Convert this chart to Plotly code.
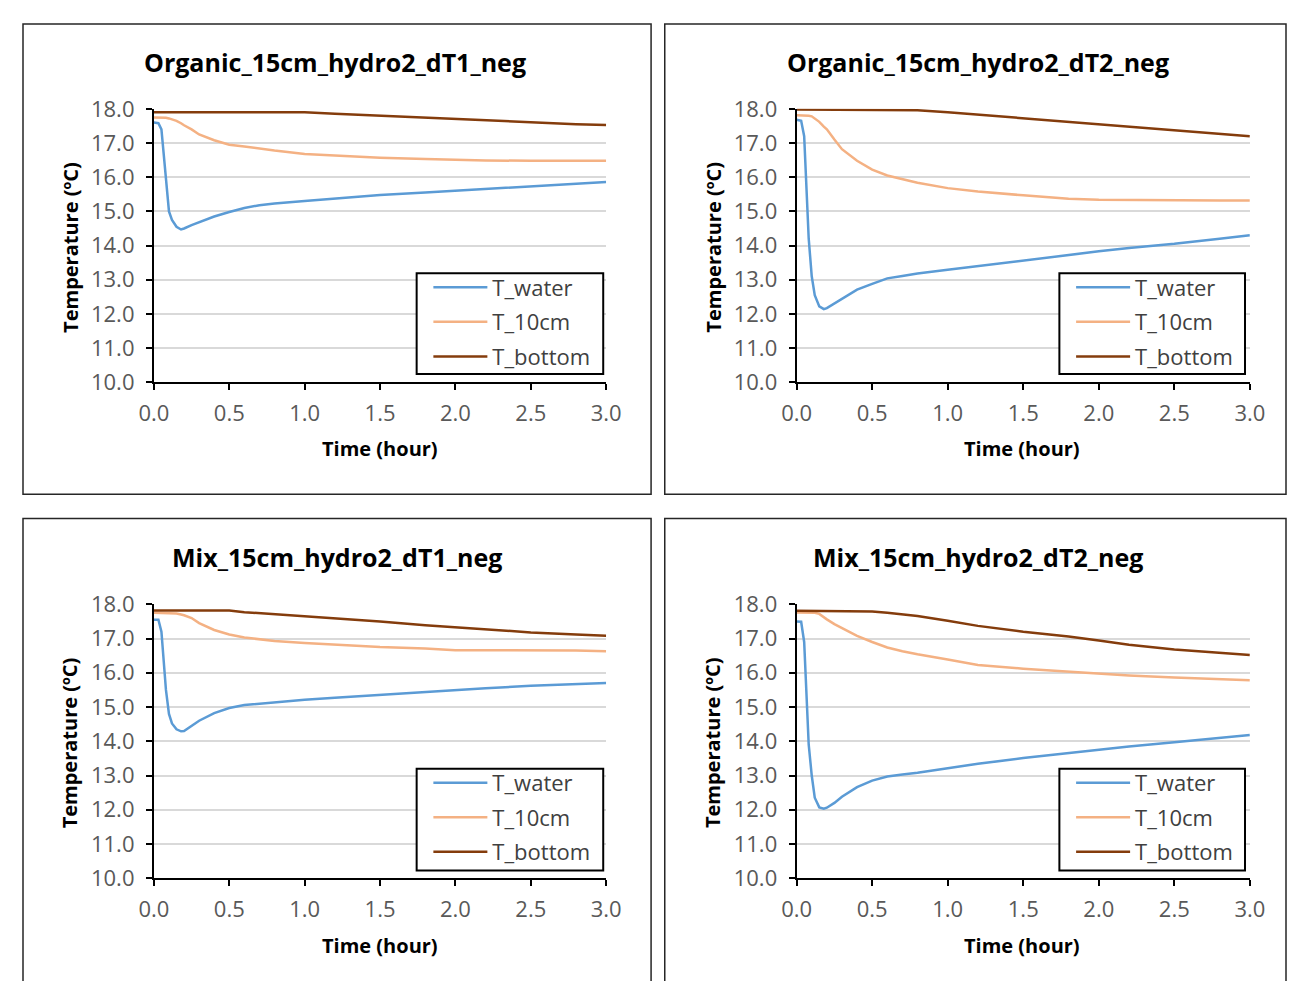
import plotly.graph_objects as go

# page is 1309x1003; the browser body margin is 8px on every side,
# so the figure is sized to fit inside it exactly
OFF = 8
FW, FH = 1309 - 2 * OFF, 1003 - 2 * OFF

# time axis (hours)
time_h = [0, 0.03, 0.05, 0.08, 0.1, 0.12, 0.15, 0.18, 0.2, 0.25, 0.3, 0.4, 0.5,
          0.6, 0.7, 0.8, 1.0, 1.2, 1.5, 1.8, 2.0, 2.2, 2.5, 2.8, 3.0]

# Organic_15cm_hydro2_dT1_neg
org1_water = [17.6, 17.58, 17.4, 16.0, 15.0, 14.75, 14.55, 14.47, 14.5, 14.6, 14.68, 14.85, 14.98,
              15.1, 15.18, 15.23, 15.3, 15.38, 15.48, 15.55, 15.6, 15.65, 15.73, 15.8, 15.86]
org1_10cm = [17.75, 17.75, 17.75, 17.74, 17.72, 17.7, 17.65, 17.58, 17.52, 17.4, 17.25, 17.08, 16.95,
             16.9, 16.83, 16.78, 16.68, 16.63, 16.57, 16.53, 16.5, 16.49, 16.48, 16.48, 16.48]
org1_bottom = [17.9, 17.9, 17.9, 17.9, 17.9, 17.9, 17.9, 17.9, 17.9, 17.9, 17.9, 17.9, 17.9,
               17.9, 17.9, 17.9, 17.9, 17.86, 17.8, 17.74, 17.7, 17.66, 17.6, 17.55, 17.53]

# Organic_15cm_hydro2_dT2_neg
org2_water = [17.68, 17.65, 17.2, 14.2, 13.1, 12.55, 12.22, 12.14, 12.17, 12.3, 12.45, 12.71, 12.88,
              13.04, 13.11, 13.18, 13.29, 13.4, 13.57, 13.72, 13.83, 13.93, 14.05, 14.2, 14.3]
org2_10cm = [17.81, 17.81, 17.81, 17.8, 17.78, 17.72, 17.62, 17.48, 17.4, 17.1, 16.82, 16.48, 16.22,
             16.05, 15.94, 15.84, 15.68, 15.58, 15.47, 15.37, 15.34, 15.33, 15.32, 15.32, 15.32]
org2_bottom = [17.98, 17.98, 17.98, 17.98, 17.98, 17.98, 17.98, 17.98, 17.98, 17.98, 17.98, 17.98, 17.98,
               17.98, 17.98, 17.96, 17.9, 17.83, 17.74, 17.62, 17.55, 17.48, 17.39, 17.27, 17.2]

# Mix_15cm_hydro2_dT1_neg
mix1_water = [17.55, 17.55, 17.2, 15.5, 14.8, 14.52, 14.35, 14.29, 14.3, 14.45, 14.6, 14.82, 14.97,
              15.06, 15.1, 15.14, 15.21, 15.27, 15.36, 15.45, 15.5, 15.55, 15.62, 15.67, 15.7]
mix1_10cm = [17.75, 17.75, 17.75, 17.75, 17.75, 17.75, 17.73, 17.7, 17.68, 17.6, 17.45, 17.25, 17.12,
             17.03, 16.98, 16.93, 16.87, 16.82, 16.75, 16.71, 16.66, 16.66, 16.66, 16.65, 16.63]
mix1_bottom = [17.82, 17.82, 17.82, 17.82, 17.82, 17.82, 17.82, 17.82, 17.82, 17.82, 17.82, 17.82, 17.82,
               17.77, 17.74, 17.71, 17.64, 17.58, 17.5, 17.39, 17.33, 17.26, 17.18, 17.12, 17.08]

# Mix_15cm_hydro2_dT2_neg
mix2_water = [17.5, 17.49, 16.9, 13.9, 13.0, 12.35, 12.07, 12.03, 12.06, 12.2, 12.38, 12.66, 12.85,
              12.97, 13.03, 13.08, 13.21, 13.34, 13.51, 13.66, 13.75, 13.85, 13.97, 14.1, 14.18]
mix2_10cm = [17.76, 17.76, 17.76, 17.76, 17.76, 17.75, 17.72, 17.62, 17.56, 17.42, 17.3, 17.08, 16.9,
             16.74, 16.63, 16.54, 16.39, 16.23, 16.12, 16.04, 15.97, 15.92, 15.86, 15.81, 15.78]
mix2_bottom = [17.81, 17.81, 17.81, 17.81, 17.81, 17.81, 17.81, 17.81, 17.81, 17.81, 17.81, 17.8, 17.79,
               17.75, 17.7, 17.66, 17.52, 17.37, 17.2, 17.06, 16.94, 16.82, 16.68, 16.58, 16.52]

titles = ["Organic_15cm_hydro2_dT1_neg", "Organic_15cm_hydro2_dT2_neg",
          "Mix_15cm_hydro2_dT1_neg", "Mix_15cm_hydro2_dT2_neg"]
series_names = ["T_water", "T_10cm", "T_bottom"]
panel_data = [
    (org1_water, org1_10cm, org1_bottom),
    (org2_water, org2_10cm, org2_bottom),
    (mix1_water, mix1_10cm, mix1_bottom),
    (mix2_water, mix2_10cm, mix2_bottom),
]

colors = ["#5B9BD5", "#F4B183", "#843C0C"]
FONT = "Open Sans"
X_RANGE = [0, 3]
Y_RANGE = [10, 18]

# pixel layout (page coordinates) of each panel
layouts = [
    dict(x0=142, x1=605, yt=95.5, yb=377.5, frame=(8, 8, 651, 493), title=(327, 47),
         ytl=(56, 238), xtl=(373.5, 446), leg=(411, 265, 602, 369)),
    dict(x0=800, x1=1264, yt=95.5, yb=377.5, frame=(665, 8, 1301, 493), title=(986, 47),
         ytl=(714, 238), xtl=(1031, 446), leg=(1069, 265, 1259, 369)),
    dict(x0=142, x1=605, yt=606.5, yb=889, frame=(8, 518, 651, None), title=(329, 558),
         ytl=(56, 749), xtl=(373.5, 958), leg=(411, 776, 602, 881)),
    dict(x0=800, x1=1264, yt=606.5, yb=889, frame=(665, 518, 1301, None), title=(986, 558),
         ytl=(714, 749), xtl=(1031, 958), leg=(1069, 776, 1259, 881)),
]


def px(x):
    return (x - OFF) / FW


def py(y):
    return 1 - (y - OFF) / FH


fig = go.Figure()
shapes = []
annotations = []

for i, (lay, title, data) in enumerate(zip(layouts, titles, panel_data), start=1):
    sfx = "" if i == 1 else str(i)
    leg_name = "legend" if i == 1 else f"legend{i}"
    for name, vals, col in zip(series_names, data, colors):
        fig.add_trace(go.Scatter(
            x=time_h, y=vals, name=name, mode="lines",
            line=dict(color=col, width=2.5),
            xaxis=f"x{sfx}", yaxis=f"y{sfx}", legend=leg_name,
            legendgroup=f"{i}_{name}",
        ))

    fig.update_layout(**{
        f"xaxis{sfx}": dict(
            domain=[px(lay["x0"]), px(lay["x1"])], anchor=f"y{sfx}", range=X_RANGE,
            dtick=0.5, tick0=0, tickformat=".1f", showgrid=False, zeroline=False,
            showline=True, linecolor="black", linewidth=2,
            ticks="outside", ticklen=6, tickwidth=2, tickcolor="black",
            tickfont=dict(family=FONT, size=22, color="#595959"), ticklabelstandoff=4,
        ),
        f"yaxis{sfx}": dict(
            domain=[py(lay["yb"]), py(lay["yt"])], anchor=f"x{sfx}", range=Y_RANGE,
            dtick=1, tick0=10, tickformat=".1f", showgrid=True, gridcolor="#D9D9D9",
            gridwidth=2, zeroline=False, showline=True, linecolor="black", linewidth=2,
            ticks="outside", ticklen=6, tickwidth=2, tickcolor="black",
            tickfont=dict(family=FONT, size=22, color="#595959"), ticklabelstandoff=7,
        ),
    })

    # legend box drawn in its subplot's data space, between gridlines and traces
    lx0, ly0, lx1, ly1 = lay["leg"]
    wpx = lay["x1"] - lay["x0"]
    hpx = lay["yb"] - lay["yt"]
    xs = X_RANGE[1] - X_RANGE[0]
    ys = Y_RANGE[1] - Y_RANGE[0]
    shapes.append(dict(
        type="rect", xref=f"x{sfx}", yref=f"y{sfx}", layer="between",
        x0=X_RANGE[0] + (lx0 - lay["x0"]) / wpx * xs,
        x1=X_RANGE[0] + (lx1 - lay["x0"]) / wpx * xs,
        y0=Y_RANGE[0] + (lay["yb"] - ly1) / hpx * ys,
        y1=Y_RANGE[0] + (lay["yb"] - ly0) / hpx * ys,
        fillcolor="white", line=dict(color="black", width=2),
    ))
    fig.update_layout(**{leg_name: dict(
        x=px(lx0 + 12), y=py(ly0 - 7), xanchor="left", yanchor="top",
        bgcolor="rgba(0,0,0,0)", borderwidth=0, tracegroupgap=3, itemwidth=54,
        font=dict(family=FONT, size=22, color="#404040"),
    )})

    # outer frame (bottom row is cut off by the page edge)
    fx0, fy0, fx1, fy1 = lay["frame"]
    if fy1 is None:
        path = (f"M{px(fx0)},0 L{px(fx0)},{py(fy0)} L{px(fx1)},{py(fy0)} L{px(fx1)},0")
    else:
        path = (f"M{px(fx0)},{py(fy1)} L{px(fx0)},{py(fy0)} L{px(fx1)},{py(fy0)} "
                f"L{px(fx1)},{py(fy1)} Z")
    shapes.append(dict(
        type="path", xref="paper", yref="paper", path=path,
        line=dict(color="#262626", width=1.5),
    ))

    annotations.append(dict(
        text=f"<b>{title}</b>", x=px(lay["title"][0]), y=py(lay["title"][1]),
        xref="paper", yref="paper", xanchor="center", yanchor="middle", showarrow=False,
        font=dict(family=FONT, size=25, color="black"),
    ))
    annotations.append(dict(
        text="<b>Temperature (ºC)</b>", x=px(lay["ytl"][0]), y=py(lay["ytl"][1]),
        xref="paper", yref="paper", xanchor="center", yanchor="middle", showarrow=False,
        textangle=-90, font=dict(family=FONT, size=20, color="black"),
    ))
    annotations.append(dict(
        text="<b>Time (hour)</b>", x=px(lay["xtl"][0]), y=py(lay["xtl"][1]),
        xref="paper", yref="paper", xanchor="center", yanchor="middle", showarrow=False,
        font=dict(family=FONT, size=20, color="black"),
    ))

fig.update_layout(
    width=FW, height=FH, margin=dict(l=0, r=0, t=0, b=0),
    paper_bgcolor="white", plot_bgcolor="white",
    shapes=shapes, annotations=annotations,
    font=dict(family=FONT),
)

fig.write_html("out.html")
